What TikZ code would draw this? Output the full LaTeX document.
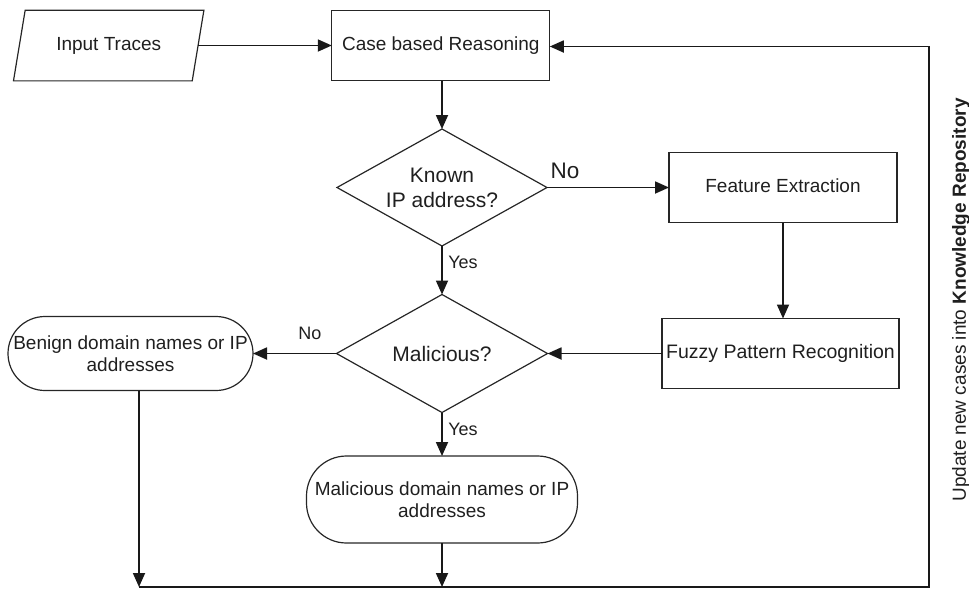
\documentclass[tikz,border=0pt]{standalone}
\usepackage{fontspec}
\setmainfont{Liberation Sans}
\usetikzlibrary{shapes.geometric,arrows.meta}
\begin{document}
\begin{tikzpicture}[x=1pt,y=-1pt,
  base/.style={draw=black!85, line width=1.2pt, inner sep=1pt, outer sep=0pt, align=center,
    font=\fontsize{19}{21.5}\selectfont, text=black!88},
  box/.style={base, rectangle},
  dec/.style={base, diamond, inner sep=0pt, aspect=1.8, font=\fontsize{21}{25}\selectfont},
  term/.style={base, rectangle, rounded corners=#1},
  conn/.style={line width=1.8pt, draw=black!90},
  arr/.style={conn, -{Triangle[length=14pt,width=12pt]}},
  lbl/.style={font=\fontsize{18}{20}\selectfont, text=black!88, inner sep=0pt},
]
\useasboundingbox (0,0) rectangle (969,595);

\node[base, trapezium, trapezium left angle=68.5, trapezium right angle=111.5,
  trapezium stretches=true, minimum width=190.7pt, minimum height=70.7pt] (in) at (108.7,45.5) {\raisebox{-3pt}{Input Traces}};
\node[box, minimum width=218pt, minimum height=70.7pt] (cbr) at (440.8,45.5) {\raisebox{2pt}{Case based Reasoning}};
\node[dec, minimum width=210pt, minimum height=117pt] (known) at (442,187.5) {Known\\IP address?};
\node[box, minimum width=228pt, minimum height=70pt] (fe) at (783,187.5) {\raisebox{3pt}{Feature Extraction}};
\node[box, minimum width=237pt, minimum height=70pt, font=\fontsize{19.5}{22}\selectfont] (fpr) at (780.5,353.5) {\raisebox{4pt}{Fuzzy Pattern Recognition}};
\node[dec, minimum width=211pt, minimum height=118pt] (mal) at (442,353.5) {Malicious?};
\node[term=37pt, minimum width=245pt, minimum height=74pt] (ben) at (130.5,353.5) {Benign domain names or IP\\addresses};
\node[term=40pt, minimum width=271pt, minimum height=87pt] (malo) at (442,499.5) {Malicious domain names or IP\\addresses};

\node[lbl, font=\fontsize{22.5}{25}\selectfont] (no1) at (565,171) {No};
\node[lbl] (yes1) at (463,262) {Yes};
\node[lbl] (no2) at (310,333) {No};
\node[lbl] (yes2) at (463,429) {Yes};
\node[lbl, font=\fontsize{19}{21}\selectfont, rotate=90] (upd) at (961,300) {Update new cases into \textbf{Knowledge Repository}};

\coordinate (b1) at (139,587);
\coordinate (b2) at (442,587);
\coordinate (br) at (929,587);
\coordinate (tr) at (929,46.5);

\draw[arr] (in.east) -- (in.east -| cbr.west);
\draw[arr] (cbr.south -| known.north) -- (known.north);
\draw[arr] (known.east) -- (known.east -| fe.west);
\draw[arr] (known.south) -- (mal.north);
\draw[arr] (fe.south) -- (fe.south |- fpr.north);
\draw[arr] (fpr.west) -- (mal.east);
\draw[arr] (mal.west) -- (ben.east);
\draw[arr] (mal.south) -- (malo.north);
\draw[arr] (ben.south -| b1) -- (b1);
\draw[arr] (malo.south) -- (b2);
\draw[arr] (b1) -- (br) -- (tr) -- (tr -| cbr.east);
\end{tikzpicture}
\end{document}
